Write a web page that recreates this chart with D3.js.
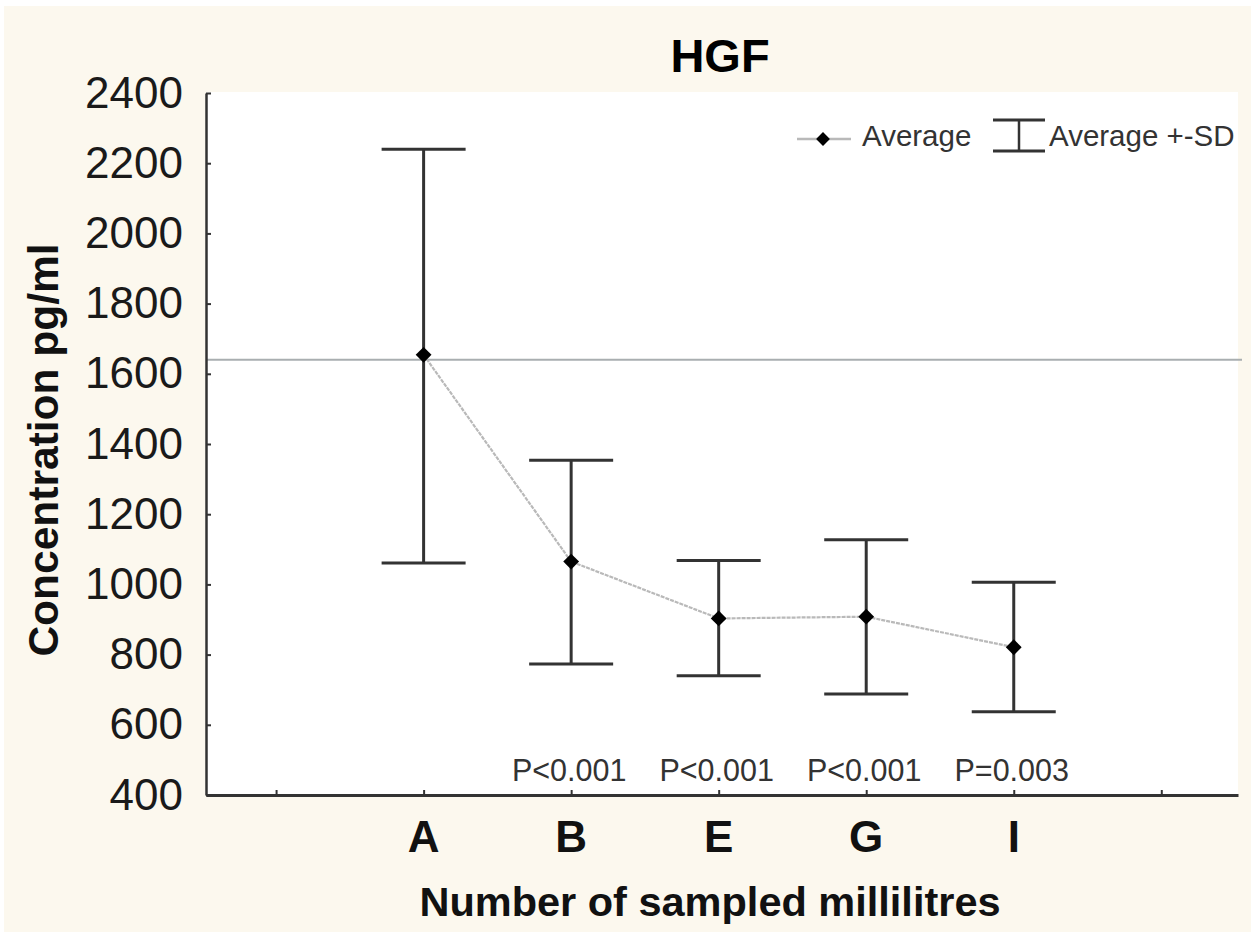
<!DOCTYPE html>
<html>
<head>
<meta charset="utf-8">
<script src="https://cdn.jsdelivr.net/npm/d3@7"></script>
<style>
  html, body { margin: 0; padding: 0; background: #ffffff; }
  svg { display: block; }
  text { font-family: "Liberation Sans", Arial, sans-serif; }
</style>
</head>
<body>
<svg id="chart" width="1251" height="937"></svg>
<script>
// ---- data ----
const categories = ["A", "B", "E", "G", "I"];
const means      = [1654, 1065, 903, 908, 821];
const upperSD    = [2240, 1354, 1068, 1127, 1006];
const lowerSD    = [1061, 773, 740, 688, 637];
const pLabels    = ["", "P<0.001", "P<0.001", "P<0.001", "P=0.003"];
const yTicks     = [400, 600, 800, 1000, 1200, 1400, 1600, 1800, 2000, 2200, 2400];
const xTickIdx   = [0, 1, 2, 3, 4, 5, 6];
const refValue   = 1640;
const titleText  = "HGF";
const xTitle     = "Number of sampled millilitres";
const yTitle     = "Concentration pg/ml";
const legendLabels = ["Average", "Average +-SD"];

// ---- layout ----
const svg = d3.select("#chart");
const L = 206, R = 1238, T = 93, B = 795;

svg.append("rect").attr("x", 4).attr("y", 6).attr("width", 1247).attr("height", 926)
  .attr("fill", "#fcf8ee");
svg.append("rect").attr("x", L).attr("y", T - 1).attr("width", R - L).attr("height", B - T + 1)
  .attr("fill", "#ffffff");

const x = d3.scaleLinear().domain([-0.475, 6.52]).range([L, R]);
const y = d3.scaleLinear().domain([400, 2400]).range([B, T]);
const xi = i => x(i + 1);

// reference line
svg.append("line")
  .attr("x1", L).attr("x2", R + 4)
  .attr("y1", y(refValue)).attr("y2", y(refValue))
  .attr("stroke", "#a9aeb0").attr("stroke-width", 2);

// axes
const yAxis = d3.axisLeft(y).tickValues(yTicks).tickSizeInner(-5).tickSizeOuter(0).tickPadding(23)
  .tickFormat(d3.format("d"));
const gy = svg.append("g").attr("transform", `translate(${L},0)`).call(yAxis);
gy.select(".domain").attr("stroke", "#333").attr("stroke-width", 2.5);
gy.selectAll(".tick line").attr("stroke", "#333").attr("stroke-width", 2);
gy.selectAll(".tick text").attr("font-size", 44).attr("fill", "#1a1a1a")
  .attr("font-family", "'Liberation Sans', Arial, sans-serif");

const xAxis = d3.axisBottom(x).tickValues(xTickIdx).tickSizeInner(-5).tickSizeOuter(0).tickFormat("");
const gx = svg.append("g").attr("transform", `translate(0,${B})`).call(xAxis);
gx.select(".domain").attr("stroke", "#333").attr("stroke-width", 3);
gx.selectAll(".tick line").attr("stroke", "#333").attr("stroke-width", 2);

// category labels
svg.selectAll(".cat").data(categories).enter().append("text")
  .attr("x", (d, i) => xi(i)).attr("y", 852)
  .attr("text-anchor", "middle").attr("font-size", 44).attr("font-weight", "bold")
  .attr("fill", "#111").text(d => d);

// mean line
const line = d3.line().x((d, i) => xi(i)).y(d => y(d));
svg.append("path").datum(means).attr("d", line)
  .attr("fill", "none").attr("stroke", "#b9b9b9").attr("stroke-width", 2.2)
  .attr("stroke-dasharray", "4,1");

// error bars
const eb = svg.selectAll(".eb").data(categories).enter().append("g").attr("class", "eb");
const capW = 42;
eb.append("line")
  .attr("x1", (d, i) => xi(i)).attr("x2", (d, i) => xi(i))
  .attr("y1", (d, i) => y(upperSD[i])).attr("y2", (d, i) => y(lowerSD[i]))
  .attr("stroke", "#333").attr("stroke-width", 3);
eb.append("line")
  .attr("x1", (d, i) => xi(i) - capW).attr("x2", (d, i) => xi(i) + capW)
  .attr("y1", (d, i) => y(upperSD[i])).attr("y2", (d, i) => y(upperSD[i]))
  .attr("stroke", "#333").attr("stroke-width", 3);
eb.append("line")
  .attr("x1", (d, i) => xi(i) - capW).attr("x2", (d, i) => xi(i) + capW)
  .attr("y1", (d, i) => y(lowerSD[i])).attr("y2", (d, i) => y(lowerSD[i]))
  .attr("stroke", "#333").attr("stroke-width", 3);

// mean markers
svg.selectAll(".pt").data(means).enter().append("path")
  .attr("d", d3.symbol().type(d3.symbolSquare).size(125))
  .attr("transform", (d, i) => `translate(${xi(i)},${y(d)}) rotate(45)`)
  .attr("fill", "#000");

// P labels
svg.selectAll(".pl").data(pLabels).enter().append("text")
  .attr("x", (d, i) => xi(i) - 2).attr("y", 781)
  .attr("text-anchor", "middle").attr("font-size", 30.5).attr("fill", "#333")
  .text(d => d);

// title
svg.append("text").attr("x", 720).attr("y", 72).attr("text-anchor", "middle")
  .attr("font-size", 47).attr("font-weight", "bold").attr("fill", "#000").text(titleText);

// axis titles
svg.append("text").attr("x", 710).attr("y", 916).attr("text-anchor", "middle")
  .attr("font-size", 41.5).attr("font-weight", "bold").attr("fill", "#111").text(xTitle);
svg.append("text").attr("transform", "translate(58,450) rotate(-90)").attr("text-anchor", "middle")
  .attr("font-size", 42.5).attr("font-weight", "bold").attr("fill", "#111").text(yTitle);

// legend
const lg = svg.append("g");
lg.append("line").attr("x1", 797).attr("x2", 851).attr("y1", 139).attr("y2", 139)
  .attr("stroke", "#b9b9b9").attr("stroke-width", 2.5);
lg.append("path").attr("d", d3.symbol().type(d3.symbolSquare).size(95))
  .attr("transform", "translate(823,139) rotate(45)").attr("fill", "#000");
lg.append("text").attr("x", 862).attr("y", 146).attr("font-size", 29.5).attr("fill", "#333")
  .text(legendLabels[0]);
lg.append("line").attr("x1", 993).attr("x2", 1045).attr("y1", 120).attr("y2", 120)
  .attr("stroke", "#333").attr("stroke-width", 3);
lg.append("line").attr("x1", 993).attr("x2", 1045).attr("y1", 151).attr("y2", 151)
  .attr("stroke", "#333").attr("stroke-width", 3);
lg.append("line").attr("x1", 1019).attr("x2", 1019).attr("y1", 120).attr("y2", 151)
  .attr("stroke", "#333").attr("stroke-width", 2.5);
lg.append("text").attr("x", 1049).attr("y", 146).attr("font-size", 29.5).attr("fill", "#333")
  .text(legendLabels[1]);
</script>
</body>
</html>
